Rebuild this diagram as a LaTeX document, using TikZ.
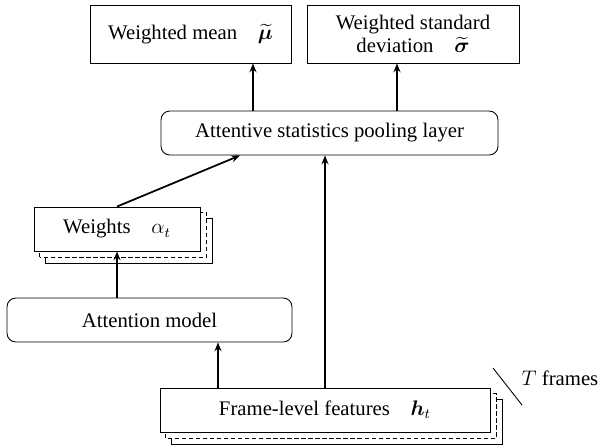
\documentclass[tikz,border=0pt]{standalone}
\usepackage{fontspec}
\setmainfont{Liberation Serif}
\usepackage{amsmath}
\usepackage{bm}
\usetikzlibrary{arrows.meta,backgrounds}

\def\sh{6}

\tikzset{
  block/.style={draw, line width=0.5pt, fill=white, align=center,
                inner sep=0pt, font=\fontsize{11.8}{13.5}\selectfont},
  rblock/.style={block, rounded corners=5pt},
  link/.style={line width=1pt, -{Stealth[length=5pt,width=4pt]}},
  shadowdash/.style={draw, fill=white, line width=0.7pt, dash pattern=on 2.5pt off 1.5pt},
  shadowline/.style={draw, fill=white, line width=0.5pt}
}

\begin{document}
\begin{tikzpicture}[x=0.02cm, y=-0.02cm]
\useasboundingbox (0,0) rectangle (599,444);

\node[block, minimum width=201*0.02cm, minimum height=58*0.02cm]
  (mean) at (190.5,34) {Weighted mean\quad $\widetilde{\bm{\mu}}$};
\node[block, minimum width=212*0.02cm, minimum height=58*0.02cm]
  (std) at (413,34) {Weighted standard\\deviation\quad $\widetilde{\bm{\sigma}}$};
\node[rblock, minimum width=337*0.02cm, minimum height=44*0.02cm]
  (pool) at (329.5,133) {Attentive statistics pooling layer};
\node[block, minimum width=166*0.02cm, minimum height=44*0.02cm]
  (weights) at (117,229) {Weights\quad $\alpha_t$};
\node[rblock, minimum width=285*0.02cm, minimum height=44*0.02cm]
  (attn) at (149.5,320) {Attention model};
\node[block, minimum width=330*0.02cm, minimum height=44*0.02cm]
  (frame) at (325,410) {Frame-level features\quad $\bm{h}_t$};

% stacked copies behind the weights and the frame features
\begin{scope}[on background layer]
  \foreach \b in {weights,frame}{
    \path[shadowline] ([shift={(2*\sh,2*\sh)}]\b.south west) rectangle ([shift={(2*\sh,2*\sh)}]\b.north east);
    \path[shadowdash] ([shift={(\sh,\sh)}]\b.south west) rectangle ([shift={(\sh,\sh)}]\b.north east);
  }
\end{scope}

\coordinate (mx) at (253,0);
\coordinate (sx) at (397,0);
\coordinate (px) at (240,0);
\coordinate (ax) at (218,0);

\draw[link] (pool.north -| mx) -- (mean.south -| mx);
\draw[link] (pool.north -| sx) -- (std.south -| sx);
\draw[link] (weights.north) -- (pool.south -| px);
\draw[link] (attn.north -| weights) -- (weights.south);
\draw[link] (frame.north -| ax) -- (attn.south -| ax);
\draw[link] (frame.north) -- (pool.south -| frame);

% number of frames
\coordinate (t1) at (493,368);
\coordinate (t2) at (522,405);
\draw[line width=0.5pt] (t1) -- (t2);
\node[font=\fontsize{11.8}{13.5}\selectfont] (tlabel) at (560,378) {$T$ frames};
\end{tikzpicture}
\end{document}
